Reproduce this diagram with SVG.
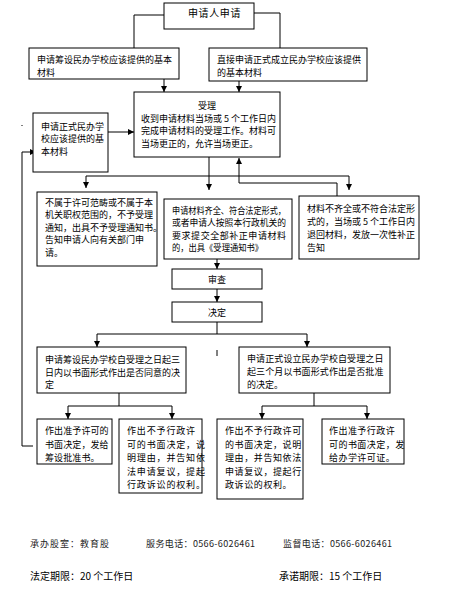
<svg xmlns="http://www.w3.org/2000/svg" width="455" height="606" viewBox="0 0 455 606">
<style>
.box{fill:#fff;stroke:#000;stroke-width:1}
.t{font-family:"Noto Sans CJK SC","Noto Sans CJK JP",sans-serif;font-size:9px;fill:#000}
.c{text-anchor:middle}
.ln{fill:none;stroke:#000;stroke-width:1}
.a{fill:none;stroke:#000;stroke-width:1;marker-end:url(#arr)}
.f1{font-family:"Noto Sans CJK SC","Noto Sans CJK JP",sans-serif;font-size:9px;fill:#222;letter-spacing:1px}
.f2{font-family:"Noto Sans CJK SC","Noto Sans CJK JP",sans-serif;font-size:10px;fill:#000}
</style>
<defs>
<marker id="arr" markerWidth="6" markerHeight="6" refX="6" refY="3" orient="auto" markerUnits="userSpaceOnUse">
<path d="M0,0 L6,3 L0,6 z" fill="#000"/>
</marker>
</defs>
<rect width="455" height="606" fill="#fff"/>

<g id="connectors">
<polyline class="ln" points="164,15 134,15 134,48"/>
<polyline class="ln" points="254,13 280,13 280,48"/>
<line class="a" x1="164" y1="79" x2="164" y2="92"/>
<line class="a" x1="239" y1="81" x2="239" y2="92"/>
<line class="a" x1="108" y1="132" x2="134" y2="132"/>
<line class="a" x1="209" y1="157" x2="209" y2="190"/>
<line class="ln" x1="86" y1="176" x2="349" y2="176"/>
<line class="a" x1="86" y1="176" x2="86" y2="188"/>
<line class="a" x1="349" y1="176" x2="349" y2="190"/>
<polyline class="a" points="337,196 337,183 239,183 239,158"/>
<line class="a" x1="217" y1="259" x2="217" y2="269"/>
<line class="a" x1="217" y1="289" x2="217" y2="302"/>
<line class="ln" x1="217" y1="322" x2="217" y2="334"/>
<line class="ln" x1="97" y1="334" x2="307" y2="334"/>
<line class="a" x1="97" y1="334" x2="97" y2="347"/>
<line class="a" x1="307" y1="334" x2="307" y2="347"/>
<line class="ln" x1="119" y1="393" x2="119" y2="406"/>
<line class="ln" x1="68" y1="406" x2="172" y2="406"/>
<line class="a" x1="68" y1="406" x2="68" y2="419"/>
<line class="a" x1="172" y1="406" x2="172" y2="419"/>
<line class="ln" x1="314" y1="393" x2="314" y2="406"/>
<line class="ln" x1="262" y1="406" x2="367" y2="406"/>
<line class="a" x1="262" y1="406" x2="262" y2="419"/>
<line class="a" x1="367" y1="406" x2="367" y2="419"/>
<polyline class="a" points="33,446 22,446 22,152 36,152"/>
<line class="ln" x1="217" y1="350" x2="217" y2="356"/>
<rect x="21.5" y="125" width="1" height="1" fill="#000"/>
</g>

<g id="n-apply">
<rect class="box" x="164" y="3" width="90" height="26"/>
<text class="t" x="188" y="17" style="font-size:10px;letter-spacing:0.6px">申请人申请</text>
</g>

<g id="n-prep-materials">
<rect class="box" x="29" y="48" width="150" height="31"/>
<text class="t" x="37" y="62.5">申请筹设民办学校应该提供的基本</text>
<text class="t" x="37" y="75.5">材料</text>
</g>

<g id="n-formal-materials">
<rect class="box" x="209" y="48" width="158" height="33"/>
<text class="t" x="217" y="62.5">直接申请正式成立民办学校应该提供</text>
<text class="t" x="217" y="75.5">的基本材料</text>
</g>

<g id="n-accept">
<rect class="box" x="134" y="92" width="146" height="65"/>
<text class="t c" x="207" y="108.5">受理</text>
<text class="t" x="141" y="121.5">收到申请材料当场或 5 个工作日内</text>
<text class="t" x="141" y="134">完成申请材料的受理工作。材料可</text>
<text class="t" x="141" y="146.5">当场更正的，允许当场更正。</text>
</g>

<g id="n-formal-school">
<rect class="box" x="33" y="113" width="75" height="59"/>
<text class="t" x="41" y="129.5">申请正式民办学</text>
<text class="t" x="41" y="142">校应该提供的基</text>
<text class="t" x="41" y="155">本材料</text>
</g>

<g id="n-reject">
<rect class="box" x="37" y="192" width="120" height="74"/>
<text class="t" x="45" y="205.5">不属于许可范畴或不属于本</text>
<text class="t" x="45" y="218">机关职权范围的，不予受理</text>
<text class="t" x="45" y="230.5">通知，出具不予受理通知书。</text>
<text class="t" x="45" y="243">告知申请人向有关部门申</text>
<text class="t" x="45" y="255.5">请。</text>
</g>

<g id="n-complete">
<rect class="box" x="164" y="199" width="128" height="60"/>
<text class="t" x="172" y="213.5" textLength="114" lengthAdjust="spacingAndGlyphs">申请材料齐全、符合法定形式，</text>
<text class="t" x="172" y="226" textLength="114" lengthAdjust="spacingAndGlyphs">或者申请人按照本行政机关的</text>
<text class="t" x="172" y="238.5" textLength="114" lengthAdjust="spacing">要求提交全部补正申请材料</text>
<text class="t" x="172" y="251" textLength="91" lengthAdjust="spacingAndGlyphs">的，出具《受理通知书》</text>
</g>

<g id="n-incomplete">
<rect class="box" x="299" y="196" width="120" height="63"/>
<text class="t" x="307" y="211.5">材料不齐全或不符合法定形</text>
<text class="t" x="307" y="224.5">式的，当场或 5 个工作日内</text>
<text class="t" x="307" y="237.5">退回材料，发放一次性补正</text>
<text class="t" x="307" y="250.5">告知</text>
</g>

<g id="n-review">
<rect class="box" x="172" y="269" width="90" height="20"/>
<text class="t c" x="217" y="282.5">审查</text>
</g>

<g id="n-decide">
<rect class="box" x="172" y="302" width="90" height="20"/>
<text class="t c" x="217" y="315.5">决定</text>
</g>

<g id="n-prep-decision">
<rect class="box" x="37" y="347" width="149" height="46"/>
<text class="t" x="45" y="362.5">申请筹设民办学校自受理之日起三</text>
<text class="t" x="45" y="375.5">日内以书面形式作出是否同意的决</text>
<text class="t" x="45" y="388">定</text>
</g>

<g id="n-formal-decision">
<rect class="box" x="239" y="347" width="151" height="46"/>
<text class="t" x="247" y="361.5" style="letter-spacing:0.1px">申请正式设立民办学校自受理之日</text>
<text class="t" x="247" y="374.5" style="letter-spacing:0.1px">起三个月以书面形式作出是否批准</text>
<text class="t" x="247" y="387.5">的决定。</text>
</g>

<g id="n-prep-approve" style="letter-spacing:0.1px">
<rect class="box" x="37" y="419" width="75" height="45"/>
<text class="t" x="45" y="434">作出准予许可的</text>
<text class="t" x="45" y="447.5">书面决定，发给</text>
<text class="t" x="45" y="461">筹设批准书。</text>
</g>

<g id="n-prep-deny">
<rect class="box" x="119" y="419" width="83" height="74"/>
<text class="t" x="127" y="434" style="letter-spacing:0.85px">作出不予行政许</text>
<text class="t" x="127" y="447.5" style="letter-spacing:0.85px">可的书面决定，说</text>
<text class="t" x="127" y="461" style="letter-spacing:0.85px">明理由，并告知依</text>
<text class="t" x="127" y="474.5" style="letter-spacing:0.85px">法申请复议，提起</text>
<text class="t" x="127" y="488" style="letter-spacing:0.85px">行政诉讼的权利。</text>
</g>

<g id="n-formal-deny">
<rect class="box" x="217" y="419" width="86" height="80"/>
<text class="t" x="225" y="434" style="letter-spacing:0.6px">作出不予行政许可</text>
<text class="t" x="225" y="447.5" style="letter-spacing:0.6px">的书面决定，说明</text>
<text class="t" x="225" y="461" style="letter-spacing:0.6px">理由，并告知依法</text>
<text class="t" x="225" y="474.5" style="letter-spacing:0.6px">申请复议，提起行</text>
<text class="t" x="225" y="488" style="letter-spacing:0.6px">政诉讼的权利。</text>
</g>

<g id="n-formal-approve">
<rect class="box" x="322" y="419" width="82" height="45"/>
<text class="t" x="329" y="434" style="letter-spacing:0.45px">作出准予行政许</text>
<text class="t" x="329" y="447.5" style="letter-spacing:0.45px">可的书面决定，发</text>
<text class="t" x="329" y="461" style="letter-spacing:0.45px">给办学许可证。</text>
</g>

<g id="footer">
<text class="f1" x="30" y="546.5">承办股室：教育股</text>
<text class="f1" x="146" y="546.5" textLength="110" lengthAdjust="spacing">服务电话：0566-6026461</text>
<text class="f1" x="283" y="546.5" textLength="110" lengthAdjust="spacing">监督电话：0566-6026461</text>
<text class="f2" x="30" y="580">法定期限：20 个工作日</text>
<text class="f2" x="279" y="580">承诺期限：15 个工作日</text>
</g>
</svg>
